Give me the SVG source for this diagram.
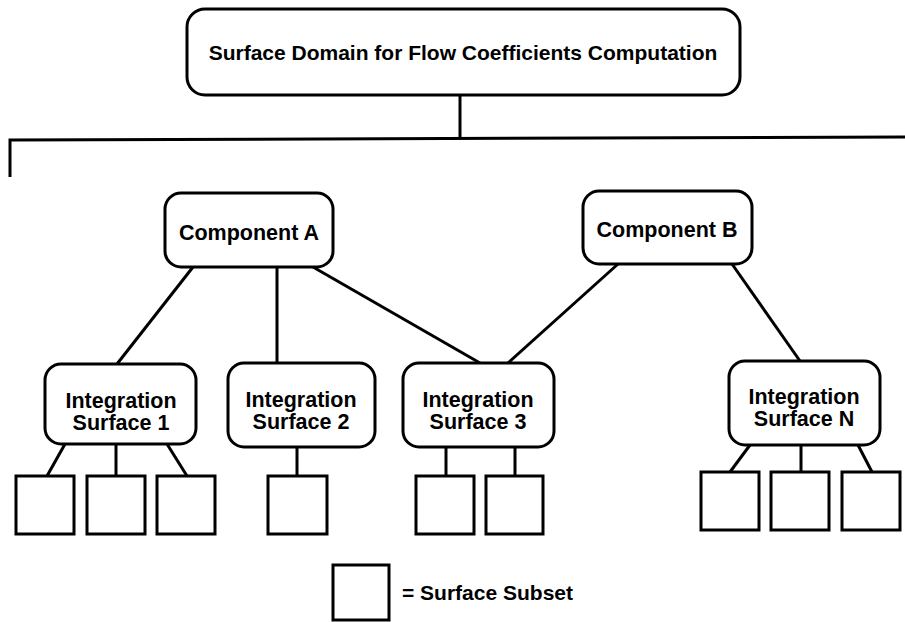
<svg xmlns="http://www.w3.org/2000/svg" width="905" height="622" viewBox="0 0 905 622">
<style>
.box{fill:#fff;stroke:#000;stroke-width:3}
.sub{fill:#fff;stroke:#000;stroke-width:3}
.ln{stroke:#000;stroke-width:3;fill:none}
text{font-family:"Liberation Sans",Arial,sans-serif;font-weight:bold;fill:#000;text-anchor:middle}
.t{font-size:21.5px}
.tt{font-size:21px}
</style>
<rect width="905" height="622" fill="#fff"/>
<g id="connectors">
<line class="ln" x1="460" y1="95" x2="460" y2="139"/>
<polyline class="ln" points="10,177 10,140 905,137"/>
<line class="ln" x1="193" y1="267" x2="117" y2="364"/>
<line class="ln" x1="277" y1="267" x2="277" y2="363"/>
<line class="ln" x1="313" y1="267" x2="480" y2="363"/>
<line class="ln" x1="618" y1="264" x2="508" y2="363"/>
<line class="ln" x1="732" y1="264" x2="800" y2="361"/>
<line class="ln" x1="65" y1="444" x2="47" y2="476"/>
<line class="ln" x1="116" y1="444" x2="116" y2="476"/>
<line class="ln" x1="167" y1="444" x2="187" y2="476"/>
<line class="ln" x1="297" y1="447" x2="297" y2="476"/>
<line class="ln" x1="446" y1="447" x2="446" y2="476"/>
<line class="ln" x1="515" y1="447" x2="515" y2="476"/>
<line class="ln" x1="750" y1="445" x2="730" y2="472"/>
<line class="ln" x1="801" y1="445" x2="801" y2="472"/>
<line class="ln" x1="858" y1="445" x2="872" y2="472"/>
</g>
<g id="root">
<rect class="box" x="187" y="9" width="553" height="86" rx="18"/>
<text class="tt" x="463" y="60">Surface Domain for Flow Coefficients Computation</text>
</g>
<g id="compA">
<rect class="box" x="165" y="193" width="168" height="74" rx="16"/>
<text class="t" x="249" y="240">Component A</text>
</g>
<g id="compB">
<rect class="box" x="583" y="191" width="169" height="73" rx="16"/>
<text class="t" x="667" y="237">Component B</text>
</g>
<g id="is1">
<rect class="box" x="45" y="364" width="151" height="80" rx="16"/>
<text class="t" x="121" y="408">Integration</text>
<text class="t" x="121" y="430">Surface 1</text>
</g>
<g id="is2">
<rect class="box" x="228" y="363" width="147" height="84" rx="16"/>
<text class="t" x="301" y="407">Integration</text>
<text class="t" x="301" y="429">Surface 2</text>
</g>
<g id="is3">
<rect class="box" x="403" y="363" width="151" height="84" rx="16"/>
<text class="t" x="478" y="407">Integration</text>
<text class="t" x="478" y="429">Surface 3</text>
</g>
<g id="isN">
<rect class="box" x="729" y="361" width="151" height="84" rx="16"/>
<text class="t" x="804" y="404">Integration</text>
<text class="t" x="804" y="426">Surface N</text>
</g>
<g id="subsets">
<rect class="sub" x="16" y="476" width="58" height="58"/>
<rect class="sub" x="87" y="476" width="58" height="58"/>
<rect class="sub" x="157" y="476" width="58" height="58"/>
<rect class="sub" x="268" y="476" width="59" height="58"/>
<rect class="sub" x="416" y="476" width="58" height="58"/>
<rect class="sub" x="486" y="476" width="57" height="58"/>
<rect class="sub" x="701" y="472" width="58" height="58"/>
<rect class="sub" x="771" y="472" width="58" height="58"/>
<rect class="sub" x="842" y="472" width="58" height="58"/>
</g>
<g id="legend">
<rect class="sub" x="333" y="565" width="56" height="55"/>
<text class="t" x="402" y="600" style="text-anchor:start;font-size:21px">= Surface Subset</text>
</g>
</svg>
